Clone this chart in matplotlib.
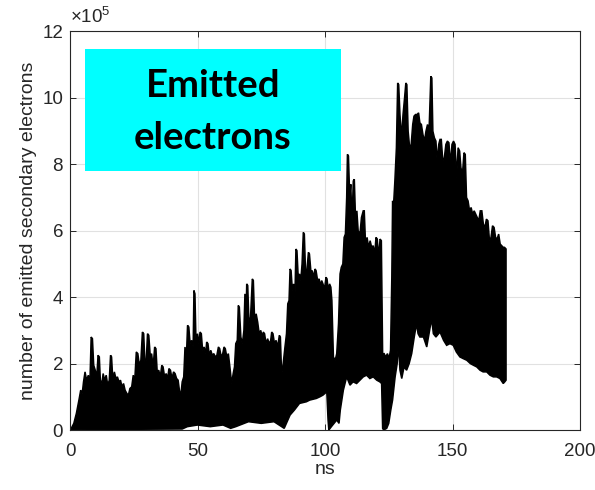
import matplotlib
matplotlib.use("Agg")
import matplotlib.pyplot as plt
from matplotlib.patches import Rectangle
import numpy as np

# ---- data (values in units of 1e5 electrons, time in ns) ----
upper_t = [0, 0.5, 1.5, 2.5, 3.5, 4.2, 4.8, 5.3, 5.9, 6.5, 7.2, 7.8, 8.3, 8.8, 9.3, 9.9,
           10.5, 11.0, 11.5, 11.9, 12.5, 13.0, 13.6, 14.2, 14.8, 15.4, 15.9, 16.3, 16.8,
           17.4, 18.0, 18.6, 19.2, 19.8, 20.4, 21.0, 21.6, 22.3, 22.9,
           23.5, 24.2, 24.8, 25.4, 26.0, 26.6, 27.2, 27.8, 28.4, 28.9, 29.4, 29.9, 30.4,
           30.9, 31.5, 32.0, 32.6, 33.2, 33.7, 34.2, 34.8, 35.4, 36.0, 36.5, 37.1, 37.7,
           38.3, 38.8, 39.4, 40.0, 40.6, 41.2, 41.8, 42.4, 42.9, 43.4,
           44.0, 44.6, 45.1, 45.6, 46.1, 46.6, 47.1, 47.7, 48.3, 48.6, 49.0, 49.4, 50.0,
           50.5, 51.0, 51.5, 52.0, 52.6, 53.2, 53.6, 54.1, 54.6, 55.2, 55.8, 56.4, 57.0,
           57.6, 58.2, 58.7, 59.3, 59.9, 60.4, 60.9, 61.5, 62.1, 62.7, 63.4,
           64.0, 64.5, 65.0, 65.6, 66.0, 66.4, 67.0, 67.6, 68.2, 68.6, 69.0, 69.3, 69.7,
           70.2, 70.8, 71.5, 71.9, 72.4, 73.0, 73.6, 74.2, 74.8, 75.4, 75.8, 76.3, 76.9,
           77.5, 78.1, 78.7, 79.1, 79.6, 80.2, 80.8, 81.4, 82.1, 82.5, 83.0, 83.6,
           84.3, 84.9, 85.4, 85.9, 86.3, 86.7, 87.2, 87.7, 88.2, 88.6, 89.0, 89.5, 90.0,
           90.5, 91.0, 91.5, 91.9, 92.4, 92.9, 93.5, 93.9, 94.5, 95.0, 95.6, 96.1, 96.5,
           97.1, 97.7, 98.2, 98.7, 99.2, 99.8, 100.4, 100.8, 101.3, 101.8, 102.3, 102.7,
           103.3, 104.0, 104.6,
           105.3, 105.9, 106.4, 107.0, 107.5, 108.0, 108.5, 108.8, 109.2, 109.7, 110.1,
           110.6, 111.1, 111.5, 112.0, 112.5, 113.0, 113.7, 114.3, 115.0, 115.4, 115.9,
           116.5, 117.1, 117.7, 118.3, 118.9, 119.5, 120.0, 120.5, 121.0, 121.6, 122.1,
           122.6, 123.2, 123.8, 124.5, 125.1, 125.7,
           126.2, 126.5, 126.9, 127.4, 128.0, 128.5, 128.9, 129.4, 130.0, 130.6, 131.2,
           131.7, 132.1, 132.6, 133.2, 133.8, 134.4, 134.9, 135.5, 136.1, 136.7, 137.2,
           137.8, 138.4, 139.0, 139.6, 140.2, 140.8, 141.5, 141.9, 142.3, 142.9, 143.5,
           144.0, 144.6, 145.1, 145.6, 146.2, 146.8, 147.4, 148.0, 148.6, 149.2, 149.8,
           150.4, 151.0, 151.6, 152.2, 152.8, 153.3, 153.9, 154.5, 155.0, 155.5, 156.1,
           156.7, 157.3, 157.9, 158.5, 159.1, 159.7, 160.3, 160.9, 161.5, 162.1, 162.7,
           163.3, 163.9, 164.5, 165.1, 165.7, 166.3, 166.9, 167.5, 168.1, 168.7, 169.3,
           169.9, 170.4, 171.0]
upper_v = [0, 0.05, 0.2, 0.5, 0.9, 1.2, 1.1, 1.45, 1.75, 1.5, 1.65, 1.4, 2.8, 2.75, 1.95, 1.8,
           1.6, 2.25, 2.2, 1.5, 1.4, 1.7, 1.5, 1.65, 1.35, 1.5, 2.25, 2.2, 1.5,
           1.75, 1.55, 1.6, 1.45, 1.5, 1.3, 1.4, 1.2, 1.1, 1.05,
           1.25, 1.3, 1.65, 1.5, 2.35, 2.3, 1.95, 2.1, 2.95, 2.9, 2.0, 2.1, 2.9,
           2.85, 2.2, 2.3, 1.9, 2.5, 2.45, 1.75, 1.8, 1.6, 1.95, 1.9, 1.6, 1.7,
           1.55, 1.85, 1.8, 1.55, 1.75, 1.7, 1.55, 1.5, 1.2, 1.0,
           1.45, 1.6, 2.5, 2.1, 3.15, 3.1, 2.6, 2.7, 2.5, 4.2, 4.1, 2.7, 2.9,
           2.6, 2.95, 2.9, 2.4, 2.5, 2.3, 2.65, 2.6, 2.25, 2.4, 2.25, 2.3, 2.2,
           2.25, 2.5, 2.45, 2.2, 2.3, 2.5, 2.45, 2.2, 2.3, 1.9, 1.4,
           1.7, 1.9, 2.6, 2.7, 3.75, 3.7, 2.8, 2.6, 3.0, 4.1, 3.3, 4.4, 4.35,
           3.2, 3.4, 4.55, 4.5, 3.3, 3.5, 3.25, 2.9, 3.0, 2.8, 2.95, 2.9, 2.6,
           2.75, 2.6, 2.7, 2.95, 2.9, 2.6, 2.7, 2.5, 2.85, 2.8, 1.65, 2.0,
           2.5, 2.9, 3.8, 3.9, 4.85, 4.8, 4.2, 4.4, 4.0, 5.45, 5.4, 4.6, 4.7,
           4.5, 5.0, 5.95, 5.9, 4.7, 4.8, 5.35, 5.3, 4.75, 4.8, 4.6, 4.85, 4.8,
           4.5, 4.55, 4.35, 4.5, 4.4, 4.25, 4.6, 4.55, 4.2, 4.4, 4.3, 3.9,
           2.2, 2.1, 2.3,
           3.2, 4.7, 4.9, 5.0, 5.8, 5.9, 7.0, 8.3, 8.25, 7.0, 7.4,
           6.3, 7.5, 7.55, 6.3, 6.6, 6.0, 5.9, 6.4, 6.6, 6.6, 5.6,
           5.8, 5.5, 5.7, 5.5, 5.55, 5.3, 5.8, 5.75, 5.2, 5.75, 5.7,
           2.3, 2.3, 2.2, 2.3, 2.15, 2.4,
           4.6, 6.9, 6.8, 7.5, 8.5, 10.45, 10.4, 9.5, 8.8, 9.5, 10.0,
           10.45, 10.4, 9.0, 8.5, 8.6, 9.2, 9.45, 9.5, 9.5, 9.55, 9.25,
           9.2, 8.9, 8.7, 9.0, 9.2, 9.0, 10.65, 10.6, 9.0, 8.8, 8.7,
           8.1, 8.6, 8.75, 8.75, 8.1, 8.2, 8.6, 8.7, 8.65, 8.0, 8.6,
           8.7, 8.6, 7.6, 8.5, 8.4, 7.9, 7.7, 8.35, 8.3, 7.0, 6.9,
           6.6, 6.7, 6.5, 6.6, 6.5, 6.4, 6.3, 6.6, 6.6, 6.2, 6.1,
           6.35, 6.3, 5.7, 5.8, 6.15, 6.1, 5.8, 5.75, 5.9, 5.6, 5.55,
           5.5, 5.5, 5.45]

lower_t = [0, 20, 44, 46, 50, 55, 60, 63, 65, 70, 75, 80, 83, 84, 86.3, 88, 90, 92.7, 94,
           96.6, 98, 99.2, 100.7, 101.2, 101.5, 102.5, 104.6, 105.5, 106, 107.2, 108.5,
           109.8, 111, 112.4, 113.7, 115, 116.3, 117.6, 118.9, 120.3, 121.5, 122.2,
           122.6, 123, 124.2, 125, 125.8, 126.5, 127.5, 128.3, 128.8, 129.4, 130.1, 131,
           132, 133, 134, 135, 135.9, 136.5, 137.2, 138.6, 139.9, 140.8, 141.8, 142.5,
           143.5, 145.1, 146.5, 147.7, 149, 150.3, 151.5, 152.9, 154.2, 155.6, 157,
           158.2, 159.5, 160.8, 162, 163.4, 164.7, 166, 167.3, 168.6, 169.9, 170.5, 171]
lower_v = [0, 0.02, 0.03, 0.1, 0.15, 0.1, 0.15, 0.05, 0.1, 0.25, 0.2, 0.25, 0.1, 0.05,
           0.45, 0.6, 0.8, 0.85, 0.9, 0.95, 1.0, 1.05, 1.15, 0.3, 0.0, 0.1, 0.3, 0.2,
           0.6, 1.2, 1.6, 1.35, 1.45, 1.4, 1.5, 1.6, 1.65, 1.55, 1.6, 1.5, 1.45, 1.4,
           0.05, 0.0, 0.05, 0.2, 0.6, 0.9, 1.6, 2.0, 2.6, 1.8, 1.55, 1.9, 1.8, 2.0,
           2.3, 2.8, 3.2, 2.9, 2.8, 2.8, 2.5, 2.9, 3.35, 2.9, 2.8, 2.95, 2.7, 2.55,
           2.6, 2.55, 2.35, 2.2, 2.15, 2.1, 2.0, 1.95, 1.9, 1.8, 1.75, 1.75, 1.65,
           1.6, 1.6, 1.55, 1.4, 1.45, 1.5]

x_ticks = [0, 50, 100, 150, 200]
y_ticks = [0, 2, 4, 6, 8, 10, 12]
scale = 1e5

plt.rcParams['font.family'] = ['Liberation Sans', 'DejaVu Sans']
plt.rcParams['mathtext.fontset'] = 'custom'
plt.rcParams['mathtext.rm'] = 'Liberation Sans'
plt.rcParams['mathtext.it'] = 'Liberation Sans'

txt = '#262626'
fig = plt.figure(figsize=(5.95, 4.90), dpi=100)
ax = fig.add_axes([70/595, 60/490, 510/595, 398.5/490])

ut = np.array(upper_t); uv = np.array(upper_v) * scale
lt = np.array(lower_t); lv = np.array(lower_v) * scale
ax.fill(np.concatenate([ut, lt[::-1]]), np.concatenate([uv, lv[::-1]]),
        facecolor='black', edgecolor='black', linewidth=1.1, zorder=2)

ax.set_xlim(0, 200)
ax.set_ylim(0, 12 * scale)
ax.set_xticks(x_ticks)
ax.set_yticks([v * scale for v in y_ticks])
ax.set_xticklabels([str(v) for v in x_ticks])
ax.set_yticklabels([str(v) for v in y_ticks])
ax.grid(True, color='#e1e1e1', linewidth=0.8, zorder=0)
ax.set_axisbelow(True)
ax.tick_params(direction='in', length=4, width=0.7, colors=txt, labelsize=13.5,
               top=True, right=True)
ax.tick_params(axis='x', pad=9)
ax.tick_params(axis='y', pad=5)
for s in ax.spines.values():
    s.set_color(txt)
    s.set_linewidth(0.8)

ax.set_xlabel('ns', fontsize=14, color=txt, labelpad=1)
ax.set_ylabel('number of emitted secondary electrons', fontsize=14, color=txt, labelpad=4)
ax.text(0.0, 1.012, r'$\times10^{5}$', transform=ax.transAxes, fontsize=13.5,
        color=txt, ha='left', va='bottom')

# annotation box
ax.add_patch(Rectangle((15/510, (430-171)/398.5), 256/510, 122/398.5,
                       transform=ax.transAxes, facecolor='#00ffff', edgecolor='none', zorder=5))
ax.text(143/510, (430-97.3)/398.5, 'Emitted', transform=ax.transAxes, ha='center',
        va='baseline', fontsize=27.5, fontweight='bold', family='Lato', color='black', zorder=6)
ax.text(143/510, (430-149.3)/398.5, 'electrons', transform=ax.transAxes, ha='center',
        va='baseline', fontsize=27.5, fontweight='bold', family='Lato', color='black', zorder=6)

fig.savefig('out.png', dpi=100)
